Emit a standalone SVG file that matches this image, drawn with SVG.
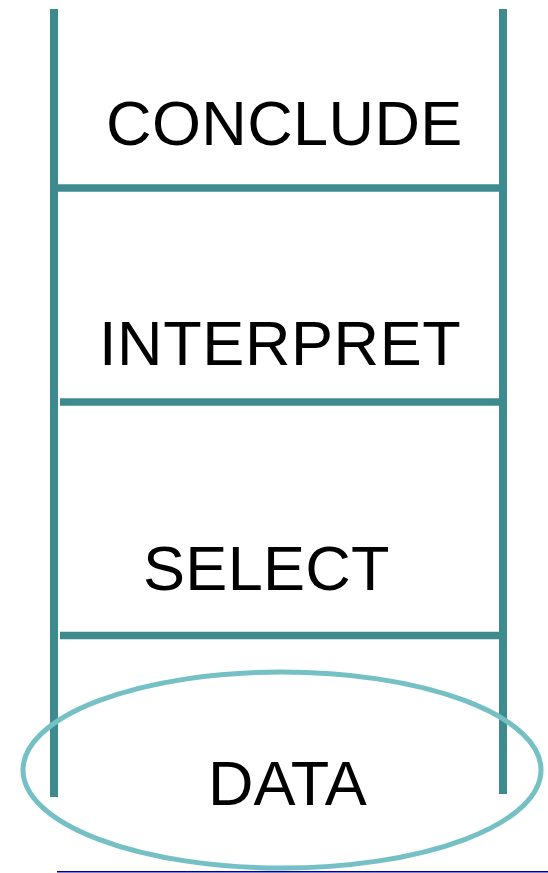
<svg xmlns="http://www.w3.org/2000/svg" width="548" height="873" viewBox="0 0 548 873">
  <style>
    .rail { stroke: #3d8b8f; stroke-width: 8; fill: none; }
    .rung { stroke: #3d8b8f; stroke-width: 7.5; fill: none; }
    .label { font-family: "Liberation Sans", Arial, sans-serif; font-size: 63px; fill: #000; }
    .base { stroke: #74c0c5; stroke-width: 5; fill: none; }
  </style>
  <rect width="548" height="873" fill="#fff"/>
  <g id="ladder">
    <line class="rail" x1="54" y1="9" x2="54" y2="797"/>
    <line class="rail" x1="503" y1="9" x2="503" y2="794"/>
  </g>
  <g id="connectors">
    <line class="rung" x1="58" y1="188" x2="499" y2="188"/>
    <line class="rung" x1="60" y1="402" x2="499" y2="402"/>
    <line class="rung" x1="60" y1="635.5" x2="499" y2="635.5"/>
  </g>
  <g id="conclude">
    <text class="label" x="106" y="145" letter-spacing="0.4">CONCLUDE</text>
  </g>
  <g id="interpret">
    <text class="label" x="99" y="365" letter-spacing="0.6">INTERPRET</text>
  </g>
  <g id="select">
    <text class="label" x="143" y="590" letter-spacing="0.3">SELECT</text>
  </g>
  <g id="data">
    <ellipse class="base" cx="282" cy="770" rx="259" ry="98"/>
    <text class="label" x="208" y="805">DATA</text>
  </g>
  <!-- thin underline along the bottom edge -->
  <rect x="57" y="871" width="491" height="1.5" fill="#0000a0"/>
</svg>
